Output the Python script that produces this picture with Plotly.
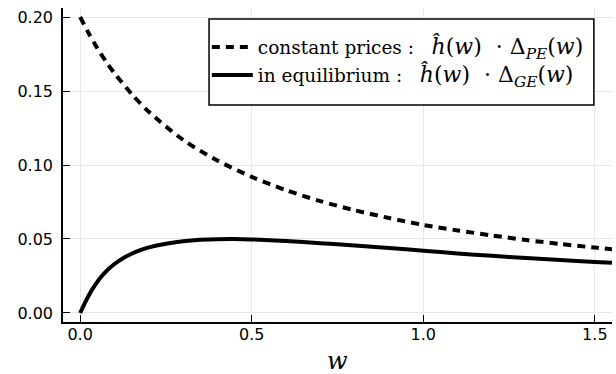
import plotly.graph_objects as go

# Data
w_pe = [0.0, 0.025, 0.05, 0.075, 0.1, 0.15, 0.2, 0.3, 0.4, 0.5, 0.6, 0.7, 0.8,
        0.9, 1.0, 1.1, 1.2, 1.3, 1.4, 1.5, 1.55]
pe_vals = [0.200, 0.189, 0.179, 0.170, 0.162, 0.148, 0.136, 0.117, 0.103,
           0.092, 0.083, 0.0756, 0.0694, 0.0642, 0.0595, 0.0558, 0.0524,
           0.0493, 0.0466, 0.0442, 0.0431]

w_ge = [0.0, 0.0125, 0.025, 0.0375, 0.05, 0.0625, 0.075, 0.0875, 0.1, 0.125,
        0.15, 0.175, 0.2, 0.25, 0.3, 0.35, 0.4, 0.45, 0.5, 0.6, 0.7, 0.8, 0.9,
        1.0, 1.1, 1.2, 1.3, 1.4, 1.5, 1.55]
ge_vals = [0.0, 0.0062, 0.0118, 0.0168, 0.0210, 0.0248, 0.0280, 0.0307,
           0.0331, 0.0370, 0.0400, 0.0424, 0.0443, 0.0468, 0.0484, 0.0494,
           0.0499, 0.0500, 0.0497, 0.0486, 0.0472, 0.0456, 0.0439, 0.0421,
           0.0402, 0.0386, 0.0371, 0.0358, 0.0345, 0.0339]

x_ticks = [0.0, 0.5, 1.0, 1.5]
x_tick_labels = ["0.0", "0.5", "1.0", "1.5"]
y_ticks = [0.0, 0.05, 0.10, 0.15, 0.20]
y_tick_labels = ["0.00", "0.05", "0.10", "0.15", "0.20"]

SP = "\u00a0"


def legend_label(prose, sub):
    math = ("<i>ĥ</i>(<i>w</i>)" + SP * 2 + "·" + SP + "Δ<sub><i>" + sub
            + "</i></sub>(<i>w</i>)")
    return (prose + SP + ":" + SP * 3
            + '<span style="font-size:22px">' + math + "</span>")


name_pe = legend_label("constant prices", "PE")
name_ge = legend_label("in equilibrium", "GE")

fig = go.Figure()
fig.add_trace(go.Scatter(x=w_pe, y=pe_vals, mode="lines", name=name_pe,
                         legendgroup="pe",
                         line=dict(color="black", width=4, dash="8px,6px",
                                   shape="spline", smoothing=0.8)))
fig.add_trace(go.Scatter(x=w_ge, y=ge_vals, mode="lines", name=name_ge,
                         legendgroup="ge",
                         line=dict(color="black", width=4, shape="spline",
                                   smoothing=0.8)))

axis_common = dict(
    showline=True, linecolor="black", linewidth=1.5, mirror=False,
    ticks="inside", ticklen=7, tickwidth=1, tickcolor="black",
    showgrid=True, gridcolor="#e8e8e8", gridwidth=1, zeroline=False,
    tickfont=dict(family="DejaVu Sans", size=16, color="black"),
)

# legend frame (paper coords of the plot area)
fig.add_shape(type="rect", xref="paper", yref="paper",
              x0=0.266, x1=0.967, y0=0.691, y1=0.965,
              line=dict(color="black", width=1.5), fillcolor="white",
              layer="above")

fig.add_annotation(text="<i>w</i>", xref="paper", yref="paper",
                   x=0.5, y=-0.125, xanchor="center", yanchor="middle",
                   showarrow=False,
                   font=dict(family="DejaVu Serif", size=24, color="black"))

fig.update_layout(
    width=616, height=374,
    margin=dict(l=63, r=4, t=8, b=52),
    paper_bgcolor="white", plot_bgcolor="white",
    showlegend=True,
    legend=dict(
        x=0.262, y=0.935, xanchor="left", yanchor="top",
        bgcolor="rgba(0,0,0,0)", borderwidth=0,
        font=dict(family="DejaVu Serif", size=18.5, color="black"),
        itemwidth=41, traceorder="grouped", tracegroupgap=1,
    ),
    xaxis=dict(range=[-0.05, 1.55], tickvals=x_ticks, ticktext=x_tick_labels,
               ticklabelstandoff=-3, **axis_common),
    yaxis=dict(range=[-0.0061, 0.2061], tickvals=y_ticks,
               ticktext=y_tick_labels, ticklabelstandoff=5, **axis_common),
)

fig.write_html("out.html")
